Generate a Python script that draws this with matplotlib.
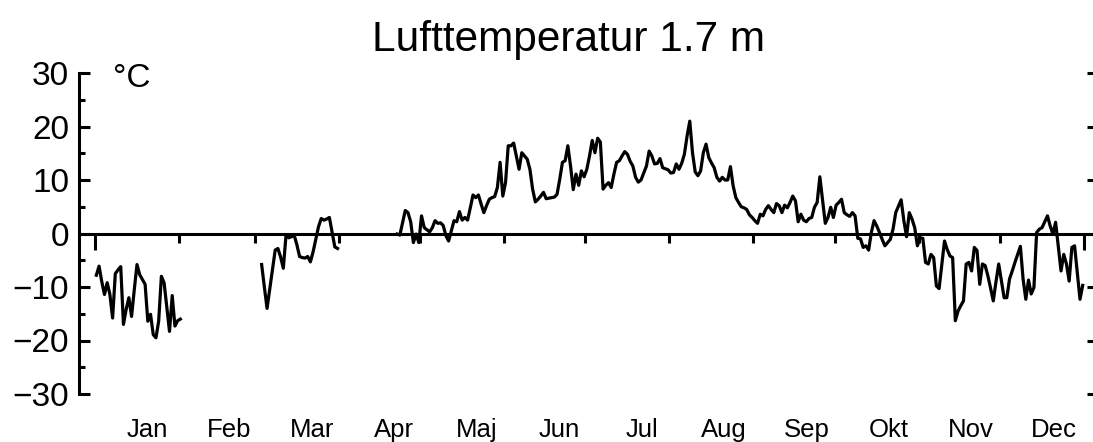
import numpy as np
import matplotlib
matplotlib.use('Agg')
import matplotlib.pyplot as plt

nan = np.nan

# daily mean air temperature (°C), one list per month, nan = no data
months = ['Jan', 'Feb', 'Mar', 'Apr', 'Maj', 'Jun', 'Jul', 'Aug', 'Sep', 'Okt', 'Nov', 'Dec']
jan = [-7.8, -6.1, -9.0, -11.4, -9.2, -11.4, -15.8, -7.5, -6.8, -6.2, -17.0, -14.2, -12.0, -15.5,
       -10.5, -5.8, -7.7, -8.6, -9.5, -16.4, -15.1, -18.9, -19.5, -16.4, -8.0, -9.2, -13.8, -18.3,
       -11.6, -17.3, -16.3]
feb = [-16.0] + [nan] * 27
mar = [nan, nan, -5.8, -10.0, -14.0, -10.4, -6.8, -3.1, -2.8, -4.4, -6.5, -0.3, -0.8, -0.6, -0.3,
       -2.1, -4.3, -4.5, -4.6, -4.3, -5.3, -3.4, -1.0, 1.3, 2.8, 2.5, 2.7, 3.0, 0.3, -2.5, -2.8]
apr = [nan] * 21 + [-0.1, -0.3, 2.0, 4.3, 3.9, 2.2, -1.7, -0.1, -1.7]
maj = [3.3, 1.1, 0.7, 0.3, 1.1, 2.4, 1.9, 2.0, 1.5, -0.4, -1.4, 0.5, 2.4, 2.2, 4.1, 2.5, 3.0, 2.5,
       4.8, 7.2, 6.7, 7.2, 5.5, 3.9, 5.2, 6.4, 6.7, 6.9, 8.6, 13.3, 7.0]
jun = [9.5, 16.4, 16.4, 16.9, 14.5, 12.0, 15.1, 14.5, 13.9, 12.0, 8.3, 5.9, 6.4, 7.0, 7.7, 6.5,
       6.6, 6.7, 6.8, 7.3, 10.1, 13.3, 13.6, 16.4, 12.6, 8.2, 11.1, 9.0, 11.7, 10.6]
jul = [12.0, 14.5, 17.4, 15.1, 17.8, 17.1, 8.3, 9.0, 9.5, 8.6, 11.1, 13.3, 13.6, 14.5, 15.3, 14.8,
       13.5, 12.6, 10.5, 9.6, 10.0, 11.3, 12.6, 15.4, 14.5, 13.0, 13.1, 14.0, 12.3, 12.1, 11.9]
aug = [11.3, 11.4, 13.0, 12.0, 13.1, 14.8, 18.2, 21.0, 15.1, 11.5, 10.8, 11.7, 15.1, 16.7, 14.2,
       13.2, 12.3, 10.5, 9.8, 10.5, 10.0, 10.0, 12.5, 8.9, 6.7, 5.8, 5.0, 4.8, 4.5, 3.5, 3.0]
sep = [2.4, 1.9, 3.6, 3.3, 4.5, 5.2, 4.5, 3.9, 5.6, 5.2, 3.9, 5.3, 4.8, 5.8, 7.0, 6.1, 2.2, 3.6,
       2.5, 2.2, 2.8, 3.0, 4.9, 5.8, 10.6, 6.2, 1.9, 3.0, 4.9, 3.0]
okt = [5.3, 5.8, 6.4, 3.9, 3.5, 3.2, 3.9, 3.3, -0.9, -1.0, -2.6, -2.3, -3.1, 0.2, 2.4, 1.4, 0.2,
       -1.1, -2.3, -1.7, -1.1, 0.8, 3.9, 5.1, 6.3, 2.4, -0.6, 3.9, 2.7, 1.1, -2.3]
nov = [-0.8, -0.9, -5.4, -5.7, -3.9, -4.5, -9.8, -10.3, -5.8, -1.4, -3.0, -4.2, -4.5, -16.3, -14.5,
       -13.5, -12.6, -5.7, -5.4, -7.0, -2.6, -3.2, -9.5, -5.7, -6.0, -7.9, -10.2, -12.6, -9.0, -5.7]
dec = [-8.8, -12.0, -12.0, -8.5, -7.0, -5.4, -3.9, -2.4, -8.5, -12.3, -8.7, -11.3, -10.1, 0.2, 0.8,
       1.1, 2.2, 3.3, 1.4, -0.1, 2.1, -2.5, -7.0, -3.9, -5.7, -8.9, -2.6, -2.3, -7.3, -12.3, -9.7]

temp = np.array(jan + feb + mar + apr + maj + jun + jul + aug + sep + okt + nov + dec, dtype=float)
days = np.arange(1, len(temp) + 1) - 0.5
month_len = [len(m) for m in (jan, feb, mar, apr, maj, jun, jul, aug, sep, okt, nov, dec)]
month_start = np.concatenate([[0], np.cumsum(month_len)])

plt.rcParams['font.family'] = ['Liberation Sans', 'DejaVu Sans']

W, H = 1093, 442
fig = plt.figure(figsize=(W / 100, H / 100), dpi=100)
ax = fig.add_axes([79 / W, 48 / H, 1014 / W, 321 / H])
ax2 = ax.twinx()

ax.plot(days, temp, color='black', lw=2.3)
ax.set_xlim(-5.9, 368.3)
ax.set_ylim(-30, 30)

ax.spines['top'].set_visible(False)
ax.spines['right'].set_visible(False)
ax.spines['bottom'].set_position(('data', 0))
ax.spines['bottom'].set_linewidth(2.2)
ax.spines['left'].set_linewidth(2.2)

ax.set_yticks(range(-30, 31, 10))
ax.set_yticks(range(-25, 30, 10), minor=True)
ax.tick_params(axis='y', which='major', direction='in', length=7.7, width=2.2, pad=7.0, labelsize=24)
ax.tick_params(axis='y', which='minor', direction='in', length=4.1, width=2.2)

ax.set_xticks([month_start[0], month_start[-1]])
ax.set_xticks(month_start[1:-1], minor=True)
ax.tick_params(axis='x', which='major', direction='out', length=11.5, width=2.2, labelbottom=False)
ax.tick_params(axis='x', which='minor', direction='out', length=6.5, width=2.2)

# short ticks on the right edge
ax2.set_ylim(-30, 30)
ax2.set_yticks(range(-30, 31, 10))
ax2.tick_params(axis='y', direction='in', length=4.3, width=2.2, labelright=False)
for s in ax2.spines.values():
    s.set_visible(False)

label_pos = (np.arange(12) + 0.5) * 365 / 12 + 4
for pos, name in zip(label_pos, months):
    ax.text(pos, -38.0, name, ha='center', va='baseline', fontsize=18.5, clip_on=False)

ax.text(6.6, 27.4, '°C', fontsize=24, va='baseline')
fig.text(568 / W, 1 - 51 / H, 'Lufttemperatur 1.7 m', ha='center', va='baseline', fontsize=30.5)

fig.savefig('out.png', dpi=100)
